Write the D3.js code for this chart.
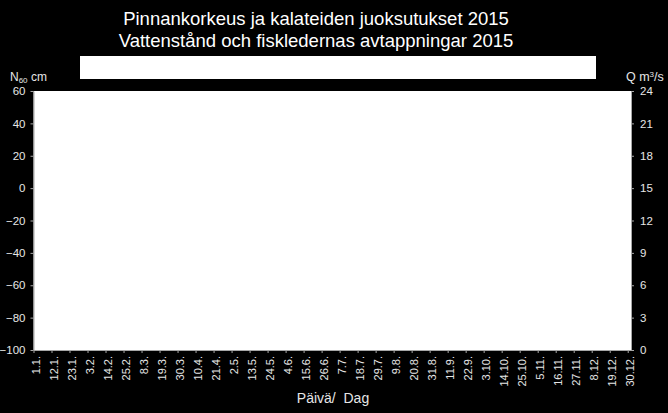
<!DOCTYPE html>
<html><head><meta charset="utf-8">
<script src="https://cdn.jsdelivr.net/npm/d3@7"></script>
<style>
html,body{margin:0;padding:0;background:#000;}
svg{display:block;}
text{font-family:"Liberation Sans",Arial,sans-serif;}
</style></head>
<body>
<svg id="c" width="668" height="413"></svg>
<script>
// ---- data ----
const titleLines = ["Pinnankorkeus ja kalateiden juoksutukset 2015", "Vattenstånd och fiskledernas avtappningar 2015"];
const xTickLabels = ["1.1.","12.1.","23.1.","3.2.","14.2.","25.2.","8.3.","19.3.","30.3.","10.4.","21.4.","2.5.","13.5.","24.5.","4.6.","15.6.","26.6.","7.7.","18.7.","29.7.","9.8.","20.8.","31.8.","11.9.","22.9.","3.10.","14.10.","25.10.","5.11.","16.11.","27.11.","8.12.","19.12.","30.12."];
const leftTicks = [-100,-80,-60,-40,-20,0,20,40,60];
const rightTicks = [0,3,6,9,12,15,18,21,24];
const waterLevel = [];   // N60 cm — no values shown
const discharge = [];    // Q m3/s — no values shown
const year = 2015;

// ---- layout ----
const svg = d3.select("#c");
const W = 668, H = 413;
const m = {left: 33.5, right: 631, top: 91, bottom: 350};

svg.append("rect").attr("width", W).attr("height", H).attr("fill", "#000");

const parseLabel = s => { const p = s.split("."); return new Date(year, +p[1]-1, +p[0]); };
const tickDates = xTickLabels.map(parseLabel);

const x = d3.scaleTime().domain([new Date(year,0,1), new Date(year+1,0,1)]).range([m.left, m.right]);
const yL = d3.scaleLinear().domain([-100,60]).range([m.bottom, m.top]);
const yR = d3.scaleLinear().domain([0,24]).range([m.bottom, m.top]);

// plot area
svg.append("rect").attr("x", m.left).attr("y", m.top)
  .attr("width", m.right - m.left).attr("height", m.bottom - m.top).attr("fill", "#fff");

// legend box (empty)
svg.append("rect").attr("x", 80).attr("y", 56).attr("width", 516).attr("height", 23).attr("fill", "#fff");

// title
svg.append("g").selectAll("text").data(titleLines).join("text")
  .attr("x", 316).attr("y", (d,i) => 25 + i*22)
  .attr("text-anchor", "middle").attr("fill", "#fff").attr("font-size", 18.5)
  .text(d => d);

const axisColor = "#a6a6a6", textColor = "#e6e6e6";
function style(g){
  g.select(".domain").attr("stroke", axisColor);
  g.selectAll(".tick line").attr("stroke", axisColor);
  g.selectAll(".tick text").attr("fill", textColor).attr("font-size", 11.5)
    .attr("font-family", '"Liberation Sans",Arial,sans-serif');
}

// left axis
svg.append("g").attr("transform", `translate(${m.left},0)`)
  .call(d3.axisLeft(yL).tickValues(leftTicks).tickSize(3).tickSizeOuter(0).tickPadding(5))
  .call(style);

// right axis
svg.append("g").attr("transform", `translate(${m.right},0)`)
  .call(d3.axisRight(yR).tickValues(rightTicks).tickSize(3).tickSizeOuter(0).tickPadding(6))
  .call(style);

// bottom axis
const xAxis = svg.append("g").attr("transform", `translate(0,${m.bottom})`)
  .call(d3.axisBottom(x).tickValues(tickDates).tickSize(3).tickSizeOuter(0)
    .tickFormat((d,i) => xTickLabels[i]))
  .call(style);
xAxis.selectAll(".tick text")
  .attr("font-size", 11)
  .attr("transform", "rotate(-90)")
  .attr("text-anchor", "end")
  .attr("x", -6).attr("y", 0).attr("dy", "0.55em");

// series (empty)
const lineL = d3.line().x(d => x(d.date)).y(d => yL(d.value));
const lineR = d3.line().x(d => x(d.date)).y(d => yR(d.value));
svg.append("path").datum(waterLevel).attr("d", lineL).attr("fill","none").attr("stroke","#1f4e9c");
svg.append("path").datum(discharge).attr("d", lineR).attr("fill","none").attr("stroke","#c00000");

// axis titles
const tl = svg.append("text").attr("x", 10).attr("y", 81).attr("fill", textColor).attr("font-size", 12);
tl.append("tspan").text("N");
tl.append("tspan").attr("font-size", 8).attr("dy", 2).text("60");
tl.append("tspan").attr("dy", -2).text(" cm");

const tr = svg.append("text").attr("x", 626).attr("y", 81).attr("fill", textColor).attr("font-size", 12.5);
tr.append("tspan").text("Q m");
tr.append("tspan").attr("font-size", 8).attr("dy", -4).text("3");
tr.append("tspan").attr("dy", 4).text("/s");

svg.append("text").attr("x", 333).attr("y", 403).attr("text-anchor", "middle")
  .attr("fill", textColor).attr("font-size", 14).attr("xml:space","preserve").text("Päivä/  Dag");
</script>
</body></html>
